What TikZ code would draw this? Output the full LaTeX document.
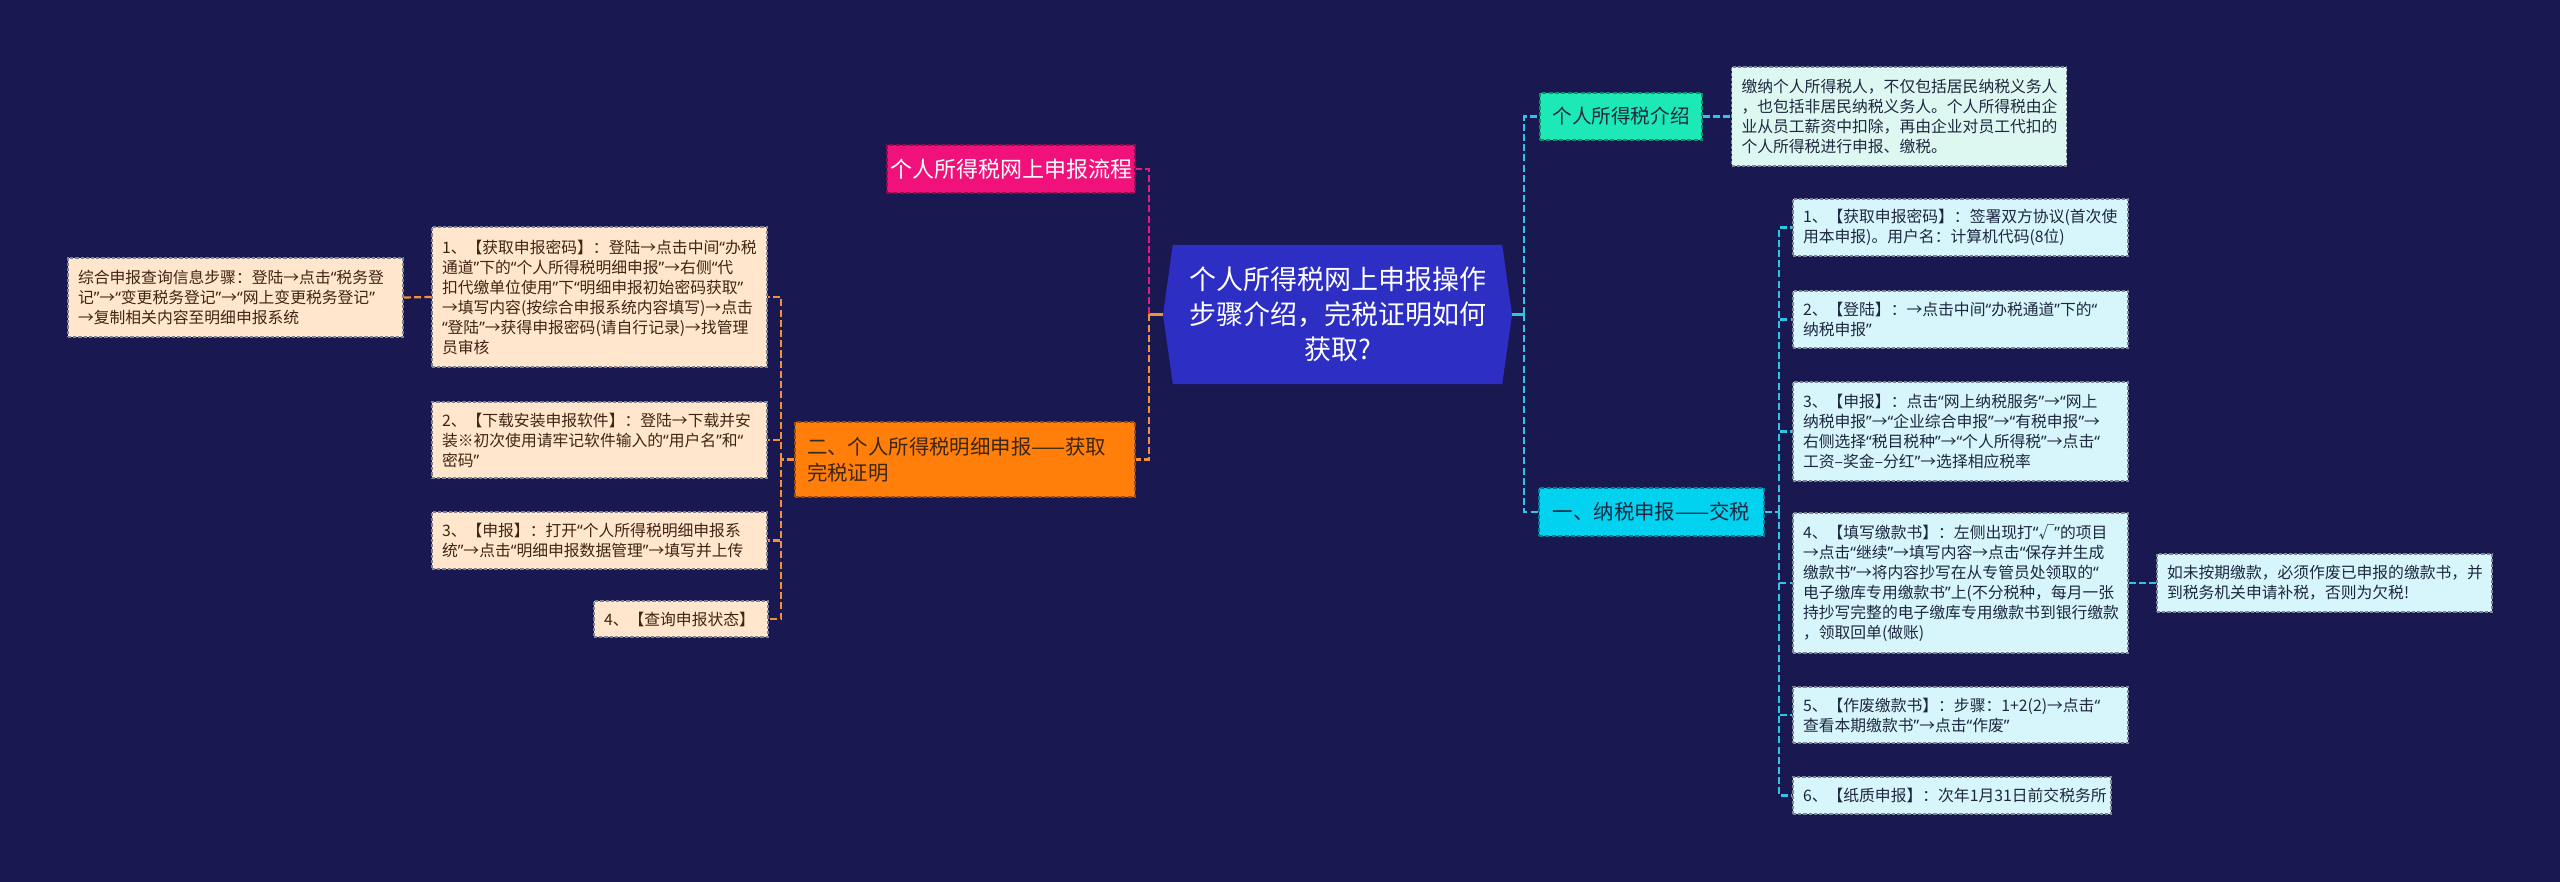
\documentclass[tikz,border=0pt]{standalone}
\usepackage{fontspec}
\setmainfont{Noto Sans CJK SC}
\newfontfamily\quotefont{Noto Sans}
\newcommand{\oq}{{\quotefont “}}
\newcommand{\cq}{{\quotefont ”}}
\usepackage{xcolor}
\usepackage{tikz}
\usetikzlibrary{shapes.symbols}
\definecolor{bgnavy}{HTML}{1A1851}
\definecolor{hubblue}{HTML}{2C2EC4}
\definecolor{rose}{HTML}{F0127A}
\definecolor{tangerine}{HTML}{FF7F0A}
\definecolor{mint}{HTML}{1DE9B6}
\definecolor{sky}{HTML}{00D2F0}
\definecolor{icefill}{HTML}{D6F6FB}
\definecolor{mintfill}{HTML}{DDF8F1}
\definecolor{peach}{HTML}{FFE6CC}
\definecolor{inkblue}{HTML}{1E2740}
\definecolor{inkbrown}{HTML}{3C2614}
\definecolor{leafedge}{HTML}{7C8494}
\definecolor{linkcyan}{HTML}{2FC6E6}
\definecolor{linkrose}{HTML}{E8197C}
\definecolor{linkorange}{HTML}{F2913A}

\begin{document}
\begin{tikzpicture}[x=0.5pt, y=-0.5pt,
  hub/.style={signal, signal to=east and west, signal pointer angle=164, fill=hubblue, text=white, minimum width=174.5pt, minimum height=69.5pt, text width=152pt, align=center, inner sep=0pt, font=\fontsize{13.5}{17.5}\selectfont},
  branch/.style={rectangle, dash pattern=on 2pt off 1.2pt, line width=0.7pt, inner sep=0pt, align=center, font=\fontsize{10.2}{13}\selectfont},
  leaf/.style={rectangle, draw=leafedge, dash pattern=on 1.6pt off 1pt, line width=0.6pt, inner xsep=5pt, inner ysep=3pt, text width=157.5pt, align=left, font=\fontsize{7.9}{10}\selectfont},
  rleaf/.style={leaf, fill=icefill, text=inkblue},
  lleaf/.style={leaf, fill=peach, text=inkbrown},
  link/.style={line width=1.1pt, dash pattern=on 3.5pt off 1.6pt},
  stub/.style={line width=1.1pt}
]
\fill[bgnavy] (0,0) rectangle (2560,882);
\useasboundingbox (0,0) rectangle (2560,882);

% centre
\node[hub] (hub) at (1337.5,314.5) {个人所得税网上申报操作\\步骤介绍，完税证明如何\\获取?};

% right side
\node[branch, draw=mint!60!black, fill=mint, text=inkblue, minimum width=81pt, minimum height=23.5pt, font=\fontsize{9.8}{12}\selectfont] (intro) at (1621,116.5) {个人所得税介绍};
\node[leaf, fill=mintfill, text=inkblue, minimum height=49.5pt] (introtxt) at (1899,116.5) {缴纳个人所得税人，不仅包括居民纳税义务人\\，也包括非居民纳税义务人。个人所得税由企\\业从员工薪资中扣除，再由企业对员工代扣的\\个人所得税进行申报、缴税。};
\node[branch, draw=sky!60!black, fill=sky, text=inkblue, minimum width=112.5pt, minimum height=24pt] (pay) at (1651.5,512) {一、纳税申报——交税};
\node[rleaf, minimum height=28.5pt] (r1) at (1960.5,227.5) {1、【获取申报密码】：签署双方协议(首次使\\用本申报)。用户名：计算机代码(8位)};
\node[rleaf, minimum height=28.5pt] (r2) at (1960.5,319.5) {2、【登陆】：→点击中间\oq{}办税通道\cq{}下的\oq{}\\纳税申报\cq{}};
\node[rleaf, minimum height=49.5pt] (r3) at (1960.5,431.5) {3、【申报】：点击\oq{}网上纳税服务\cq{}→\oq{}网上\\纳税申报\cq{}→\oq{}企业综合申报\cq{}→\oq{}有税申报\cq{}→\\右侧选择\oq{}税目税种\cq{}→\oq{}个人所得税\cq{}→点击\oq{}\\工资–奖金–分红\cq{}→选择相应税率};
\node[rleaf, minimum height=70pt] (r4) at (1960.5,583) {4、【填写缴款书】：左侧出现打\oq{}√\cq{}的项目\\→点击\oq{}继续\cq{}→填写内容→点击\oq{}保存并生成\\缴款书\cq{}→将内容抄写在从专管员处领取的\oq{}\\电子缴库专用缴款书\cq{}上(不分税种，每月一张\\持抄写完整的电子缴库专用缴款书到银行缴款\\，领取回单(做账)};
\node[rleaf, minimum height=29pt] (r4note) at (2324.5,583) {如未按期缴款，必须作废已申报的缴款书，并\\到税务机关申请补税，否则为欠税!};
\node[rleaf, minimum height=28pt] (r5) at (1960.5,715) {5、【作废缴款书】：步骤：1+2(2)→点击\oq{}\\查看本期缴款书\cq{}→点击\oq{}作废\cq{}};
\node[rleaf, minimum height=18.5pt, text width=149pt] (r6) at (1952,795.5) {6、【纸质申报】：次年1月31日前交税务所};

% left side
\node[branch, draw=rose!60!black, fill=rose, text=white, minimum width=124pt, minimum height=24pt, font=\fontsize{11}{14}\selectfont] (flow) at (1011,169) {个人所得税网上申报流程};
\node[branch, draw=tangerine!60!black, fill=tangerine, text=inkbrown, minimum width=170pt, minimum height=37.5pt, text width=158pt, align=left] (detail) at (965,459.5) {二、个人所得税明细申报——获取\\完税证明};
\node[lleaf, minimum height=70pt] (l1) at (599.5,297) {1、【获取申报密码】：登陆→点击中间\oq{}办税\\通道\cq{}下的\oq{}个人所得税明细申报\cq{}→右侧\oq{}代\\扣代缴单位使用\cq{}下\oq{}明细申报初始密码获取\cq{}\\→填写内容(按综合申报系统内容填写)→点击\\\oq{}登陆\cq{}→获得申报密码(请自行记录)→找管理\\员审核};
\node[lleaf, minimum height=39.5pt] (l1q) at (235.5,297.5) {综合申报查询信息步骤：登陆→点击\oq{}税务登\\记\cq{}→\oq{}变更税务登记\cq{}→\oq{}网上变更税务登记\cq{}\\→复制相关内容至明细申报系统};
\node[lleaf, minimum height=38pt] (l2) at (599.5,440) {2、【下载安装申报软件】：登陆→下载并安\\装※初次使用请牢记软件输入的\oq{}用户名\cq{}和\oq{}\\密码\cq{}};
\node[lleaf, minimum height=28.5pt] (l3) at (599.5,540.5) {3、【申报】：打开\oq{}个人所得税明细申报系\\统\cq{}→点击\oq{}明细申报数据管理\cq{}→填写并上传};
\node[lleaf, minimum height=18pt, text width=77pt] (l4) at (681,619) {4、【查询申报状态】};

% connectors
\coordinate (rhub) at (1524,314.5);
\coordinate (rbus) at (1779,512);
\coordinate (lhub) at (1149,314.5);
\coordinate (lbus) at (781,459.5);
\draw[stub, linkcyan] (hub.east) -- (rhub);
\draw[link, linkcyan] (rhub) |- (intro.west);
\draw[link, linkcyan] (rhub) |- (pay.west);
\draw[link, linkcyan] (intro.east) -- (introtxt.west);
\draw[link, linkcyan] (pay.east) -- (rbus);
\draw[link, linkcyan] (rbus) |- (r1.west);
\draw[link, linkcyan] (rbus) |- (r2.west);
\draw[link, linkcyan] (rbus) |- (r3.west);
\draw[link, linkcyan] (rbus) |- (r4.west);
\draw[link, linkcyan] (rbus) |- (r5.west);
\draw[link, linkcyan] (rbus) |- (r6.west);
\draw[link, linkcyan] (r4.east) -- (r4note.west);
\draw[stub, linkorange] (hub.west) -- (lhub);
\draw[link, linkrose] (lhub) |- (flow.east);
\draw[link, linkorange] (lhub) |- (detail.east);
\draw[link, linkorange] (detail.west) -- (lbus);
\draw[link, linkorange] (lbus) |- (l1.east);
\draw[link, linkorange] (lbus) |- (l2.east);
\draw[link, linkorange] (lbus) |- (l3.east);
\draw[link, linkorange] (lbus) |- (l4.east);
\draw[link, linkorange] (l1.west) -- (l1q.east);
\end{tikzpicture}
\end{document}
